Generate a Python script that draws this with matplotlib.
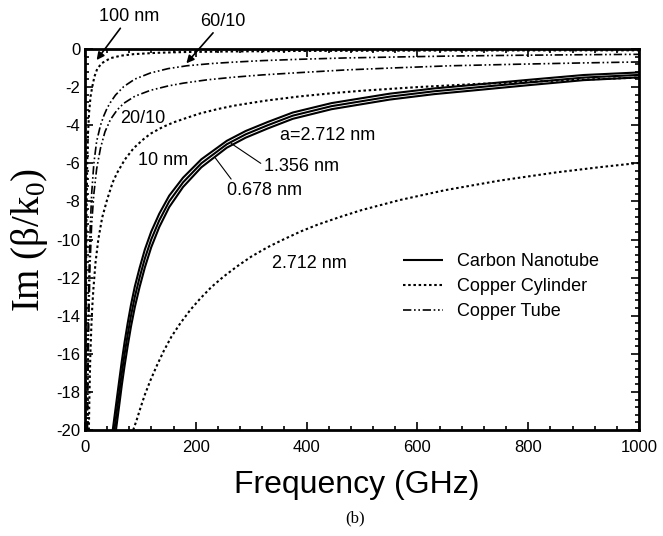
import numpy as np
import matplotlib; matplotlib.use('Agg'); import matplotlib.pyplot as plt
from matplotlib.ticker import MultipleLocator

plt.rcParams['font.family'] = ['Liberation Sans', 'DejaVu Sans']
plt.rcParams['axes.unicode_minus'] = False
plt.rcParams['mathtext.fontset'] = 'custom'
plt.rcParams['mathtext.rm'] = 'Liberation Serif'

# carbon nanotube, three radii
f_cnt_2712 = [50.1, 53, 57.5, 62, 66.5, 71.5, 77, 83, 90, 98.5, 108, 119.5, 134, 152, 177, 210, 256, 290, 330, 375,
              445, 550, 630, 712, 800, 900, 1000]
v_cnt_2712 = [-20, -19.35, -18.35, -17.35, -16.37, -15.38, -14.4, -13.43, -12.46, -11.5, -10.53, -9.59, -8.65, -7.7,
              -6.755, -5.79, -4.82, -4.305, -3.83, -3.335, -2.84, -2.345, -2.07, -1.855, -1.62, -1.365, -1.23]
f_cnt_1356 = [53, 57.5, 62, 66.5, 71.5, 77, 83, 90, 98.5, 108, 119.5, 134, 152, 177, 210, 256, 290, 330, 375, 445,
              550, 630, 712, 800, 900, 1000]
v_cnt_1356 = [-20, -19, -18, -17, -16, -15, -14, -13, -12, -11, -10, -9, -8, -7, -6, -5, -4.48, -4, -3.5, -3, -2.5,
              -2.22, -2.0, -1.76, -1.5, -1.36]
f_cnt_0678 = [55.9, 57.5, 62, 66.5, 71.5, 77, 83, 90, 98.5, 108, 119.5, 134, 152, 177, 210, 256, 290, 330, 375, 445,
              550, 630, 712, 800, 900, 1000]
v_cnt_0678 = [-20, -19.65, -18.65, -17.63, -16.62, -15.6, -14.57, -13.54, -12.5, -11.47, -10.41, -9.35, -8.3, -7.245,
              -6.21, -5.18, -4.655, -4.17, -3.665, -3.16, -2.655, -2.37, -2.145, -1.9, -1.635, -1.49]

# copper cylinder
f_cu_100 = [1.2, 1.5, 2, 2.8, 4, 5.5, 7.5, 10, 13, 17, 22, 30, 46, 65, 88, 130, 178, 260, 400, 650, 1000]
v_cu_100 = [-20, -16, -12, -8.5, -6, -4.4, -3.3, -2.5, -2.0, -1.45, -1.05, -0.75, -0.48, -0.35, -0.27, -0.2, -0.16,
            -0.13, -0.1, -0.08, -0.07]
f_cu_10 = [7, 8, 9.5, 11.4, 13, 15, 19, 24, 31, 40, 50, 58, 72, 88, 105, 118, 140, 160, 185, 208, 240, 268, 300, 329,
           387, 450, 500, 600, 712, 850, 1000]
v_cu_10 = [-20, -18.2, -16.2, -14.6, -13.6, -12.65, -11.2, -10.0, -8.85, -7.9, -7.0, -6.5, -5.8, -5.2, -4.75, -4.45,
           -4.1, -3.85, -3.6, -3.38, -3.15, -2.98, -2.83, -2.7, -2.49, -2.31, -2.19, -2.0, -1.83, -1.66, -1.5]
f_cu_2712 = [87, 93, 100, 108, 118, 130, 142, 156, 172, 190, 208, 228, 250, 275, 300, 330, 358, 390, 420, 460, 500,
             568, 650, 750, 850, 930, 1000]
v_cu_2712 = [-20, -19.5, -18.85, -18.15, -17.4, -16.6, -15.86, -15.1, -14.4, -13.7, -13.1, -12.5, -11.95, -11.4,
             -10.9, -10.4, -10.0, -9.57, -9.22, -8.82, -8.45, -7.93, -7.41, -6.9, -6.48, -6.2, -5.98]

# copper tube
f_tube_60 = [3.8, 4.5, 5.5, 7, 9, 12, 16, 21, 28, 34, 40, 46, 55, 70, 90, 118, 150, 184, 230, 268, 320, 387, 470, 560,
             660, 780, 900, 1000]
v_tube_60 = [-20, -17.2, -14.6, -12.0, -9.7, -7.6, -6.0, -4.85, -4.0, -3.5, -3.1, -2.8, -2.42, -1.97, -1.58, -1.26,
             -1.03, -0.88, -0.76, -0.69, -0.61, -0.54, -0.47, -0.42, -0.37, -0.33, -0.3, -0.28]
f_tube_20 = [4.5, 5.5, 7, 9, 12, 16, 21, 28, 36, 46, 58, 70, 90, 118, 150, 178, 220, 268, 320, 387, 470, 560, 660, 780,
             900, 1000]
v_tube_20 = [-20, -17, -14, -11.4, -9.2, -7.6, -6.3, -5.2, -4.35, -3.7, -3.2, -2.85, -2.48, -2.17, -1.94, -1.79, -1.62,
             -1.48, -1.36, -1.24, -1.1, -0.99, -0.88, -0.8, -0.73, -0.68]

fig = plt.figure(figsize=(6.63, 5.36), dpi=100)
ax = fig.add_axes([85/663, 1-430/536, 554/663, 381/536])

sol = dict(color='k', lw=1.5, ls='-', solid_capstyle='butt')
dot = dict(color='k', lw=1.5, ls=(0, (1.2, 1.3)))
dd = dict(color='k', lw=1.2, ls=(0, (5, 1.6, 1, 1.6, 1, 1.6)))

l1, = ax.plot(f_cnt_2712, v_cnt_2712, **sol)
ax.plot(f_cnt_1356, v_cnt_1356, **sol)
ax.plot(f_cnt_0678, v_cnt_0678, **sol)
l2, = ax.plot(f_cu_100, v_cu_100, **dot)
ax.plot(f_cu_10, v_cu_10, **dot)
ax.plot(f_cu_2712, v_cu_2712, **dot)
l3, = ax.plot(f_tube_60, v_tube_60, **dd)
ax.plot(f_tube_20, v_tube_20, **dd)

ax.set_xlim(0, 1000); ax.set_ylim(-20, 0)
ax.xaxis.set_major_locator(MultipleLocator(200)); ax.xaxis.set_minor_locator(MultipleLocator(40))
ax.yaxis.set_major_locator(MultipleLocator(2)); ax.yaxis.set_minor_locator(MultipleLocator(0.4))
ax.tick_params(which='both', direction='in', top=True, right=True, labelsize=12, width=1.2)
ax.tick_params(which='major', length=6); ax.tick_params(which='minor', length=3)
ax.tick_params(axis='x', pad=7)
for s in ax.spines.values(): s.set_linewidth(2)

leg = ax.legend([l1, l2, l3], ['Carbon Nanotube', 'Copper Cylinder', 'Copper Tube'], frameon=False, fontsize=13,
                loc='upper left', bbox_to_anchor=(0.574, 0.464), borderaxespad=0, borderpad=0,
                handlelength=2.2, handletextpad=0.8, labelspacing=0.45)

fs = 13
ap = dict(arrowstyle='-|>', color='k', lw=1.2, mutation_scale=11, shrinkA=0, shrinkB=0)
ax.annotate('100 nm', xy=(21, -0.58), xytext=(79, 1.68), ha='center', va='center', fontsize=fs,
            arrowprops=ap, annotation_clip=False)
ax.annotate('60/10', xy=(183, -0.75), xytext=(249, 1.44), ha='center', va='center', fontsize=fs,
            arrowprops=ap, annotation_clip=False)
ax.text(105, -3.65, '20/10', ha='center', va='center', fontsize=fs)
ax.text(141, -5.84, '10 nm', ha='center', va='center', fontsize=fs)
ax.text(438, -4.53, 'a=2.712 nm', ha='center', va='center', fontsize=fs)
ln = dict(arrowstyle='-', color='k', lw=0.8, shrinkA=0, shrinkB=0)
ax.annotate('1.356 nm', xy=(264, -4.96), xytext=(390, -6.19), ha='center', va='center', fontsize=fs,
            arrowprops=dict(ln, relpos=(0, 0.6)))
ax.annotate('0.678 nm', xy=(234, -5.67), xytext=(324, -7.42), ha='center', va='center', fontsize=fs,
            arrowprops=dict(ln, relpos=(0.1, 0.9)))
ax.text(405, -11.28, '2.712 nm', ha='center', va='center', fontsize=fs)

fig.text(357/663, 1-485/536, 'Frequency (GHz)', ha='center', va='center', fontsize=23)
fig.text(30/663, 1-240/536, 'Im (β/k$_0$)', ha='center', va='center', rotation=90, fontsize=28,
         family='Liberation Serif')
fig.text(355/663, 1-518/536, '(b)', ha='center', va='center', fontsize=12, family='Liberation Serif')

fig.savefig('out.png', dpi=100)
